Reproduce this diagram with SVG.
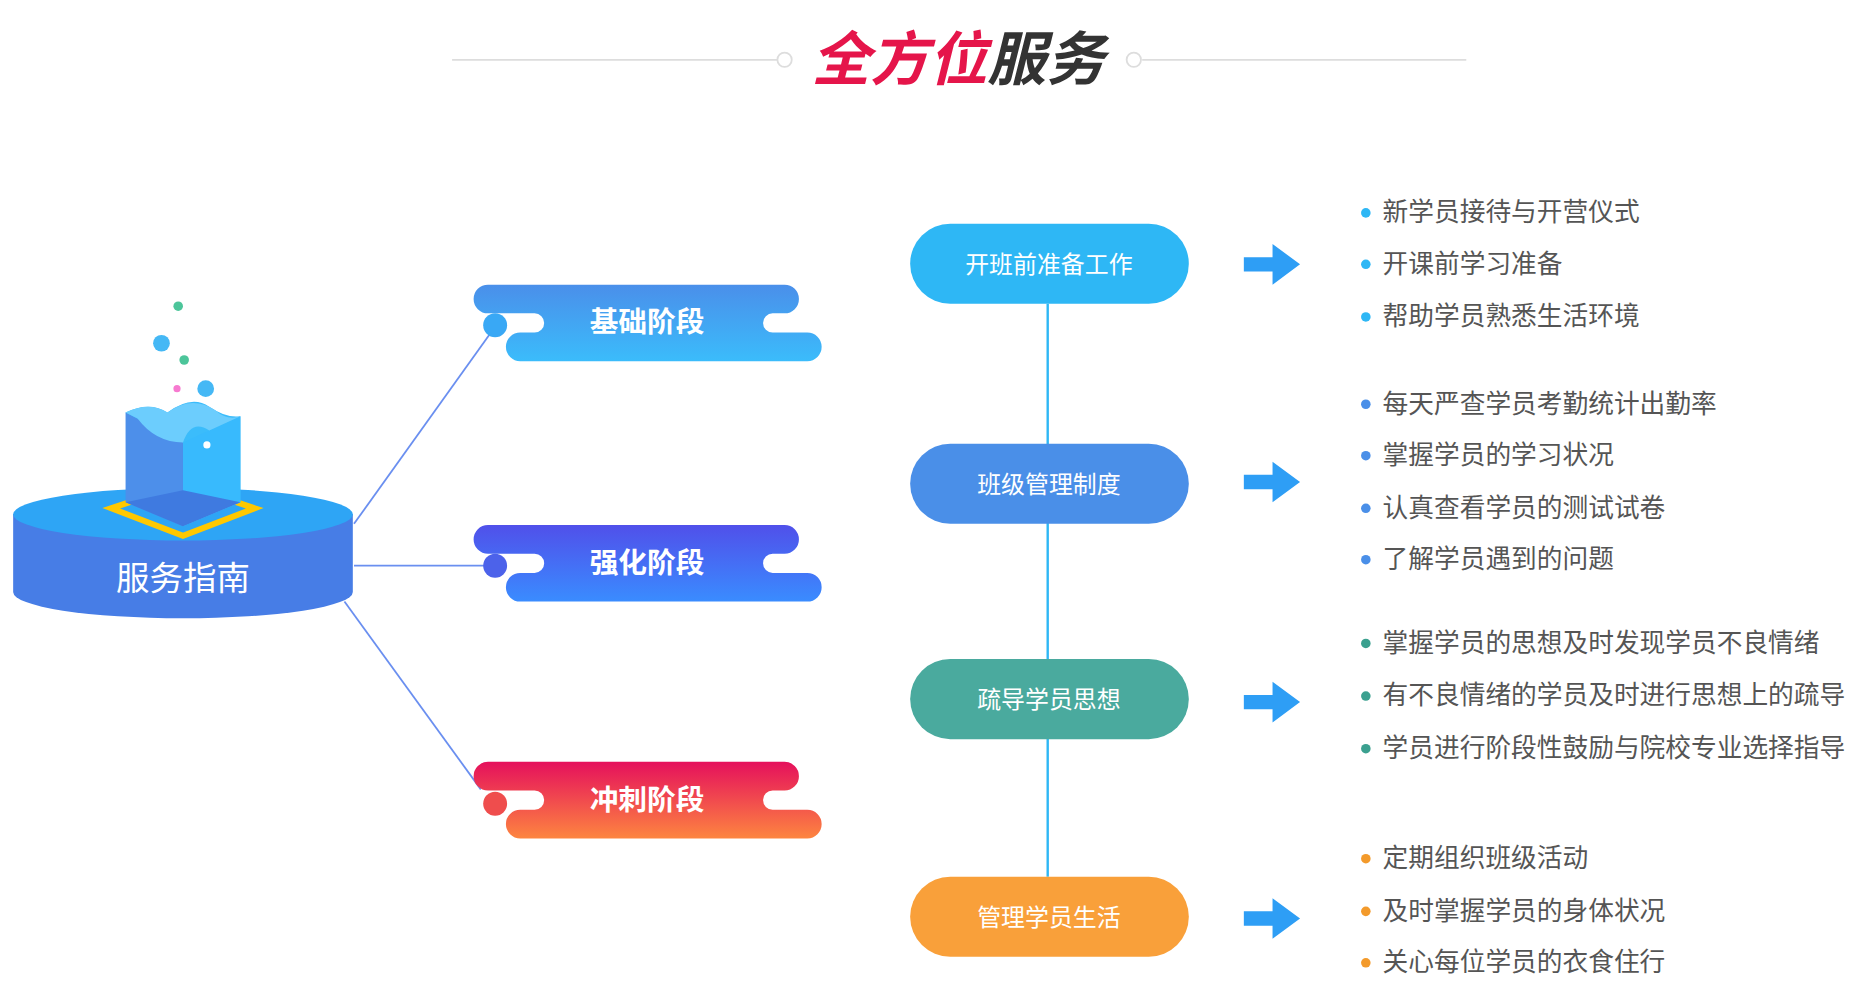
<svg xmlns="http://www.w3.org/2000/svg" width="1866" height="989" viewBox="0 0 1866 989">
<defs>
<style>
text{font-family:"Noto Sans CJK SC","Noto Sans",sans-serif}
.bt{fill:#fff;font-size:24px;font-weight:bold;text-anchor:middle}
.pt{fill:#fff;font-size:20px;text-anchor:middle}
.li{fill:#555;font-size:21.5px}
.conn{stroke:#6a8ff0;stroke-width:1.5;fill:none}
</style>
<linearGradient id="g1" x1="0" y1="0" x2="0" y2="1"><stop offset="0" stop-color="#4a8fea"/><stop offset="1" stop-color="#3bbcfb"/></linearGradient>
<linearGradient id="g2" x1="0" y1="0" x2="0" y2="1"><stop offset="0" stop-color="#5050ea"/><stop offset="1" stop-color="#3a8cff"/></linearGradient>
<linearGradient id="g3" x1="0" y1="0" x2="0" y2="1"><stop offset="0" stop-color="#e5105c"/><stop offset="1" stop-color="#fd8540"/></linearGradient>
<path id="badge" d="M12,0 H260 A12,12 0 0 1 260,24 H250 A8,8 0 0 0 250,40 H279 A12,12 0 0 1 279,64 H39 A12,12 0 0 1 39,40 H51 A8,8 0 0 0 51,24 H12 A12,12 0 0 1 12,0 Z"/>
<path id="arrow" d="M0,-6 H24 V-17 L47,0 L24,17 V6 H0 Z" fill="#2e9ef5"/>
</defs>
<rect width="1866" height="989" fill="#fff"/>
<g transform="scale(1.196)">
<g id="title">
<line x1="378" y1="50" x2="650" y2="50" stroke="#ddd" stroke-width="1.5"/>
<circle cx="656" cy="50" r="6" fill="#fff" stroke="#ddd" stroke-width="1.5"/>
<line x1="955" y1="50" x2="1226" y2="50" stroke="#ddd" stroke-width="1.5"/>
<circle cx="948" cy="50" r="6" fill="#fff" stroke="#ddd" stroke-width="1.5"/>
<text x="801" y="67" font-size="49" font-weight="bold" font-style="italic" text-anchor="middle"><tspan fill="#e5154a">全方位</tspan><tspan fill="#333">服务</tspan></text>
</g>
<g id="hub">
<path d="M11,430 V495 A142,22 0 0 0 295,495 V430 Z" fill="#477de6"/>
<ellipse cx="153" cy="430" rx="142" ry="22" fill="#2ea5f5"/>
<path d="M153,405 L213,425 L153,448 L93,425 Z" fill="none" stroke="#ffc800" stroke-width="5"/>
<path d="M105,345 Q125,335 140,345 Q160,330 175,340 Q190,350 201,348 V420 L153,440 Z" fill="#3bbcfb"/>
<path d="M105,345 L153,370 L153,440 L105,420 Z" fill="#4d8fea"/>
<path d="M153,370 L201,348 V420 L153,440 Z" fill="#38bafd"/>
<path d="M153,410 L201,420 L153,440 L105,420 Z" fill="#3f7ae0"/>
<path d="M105,345 Q125,335 140,345 Q160,330 180,343 Q190,352 201,348 L175,360 Q160,350 153,370 Q130,370 115,350 Z" fill="#6ccdfd"/>
<circle cx="173" cy="372" r="3" fill="#fff"/>
<circle cx="149" cy="256" r="4" fill="#4cc59a"/>
<circle cx="135" cy="287" r="7" fill="#45b8f5"/>
<circle cx="154" cy="301" r="4" fill="#4cc59a"/>
<circle cx="148" cy="325" r="3" fill="#f77ad0"/>
<circle cx="172" cy="325" r="7" fill="#45b8f5"/>
<text x="153" y="493" fill="#fff" font-size="28" text-anchor="middle">服务指南</text>
</g>
<g id="connectors">
<line class="conn" x1="296" y1="438" x2="412" y2="276"/>
<line class="conn" x1="296" y1="473" x2="410" y2="473"/>
<line class="conn" x1="288" y1="503" x2="402" y2="660"/>
<line x1="876" y1="254" x2="876" y2="733" stroke="#2eb7f5" stroke-width="2"/>
</g>
<g id="b1"><use href="#badge" x="396" y="238" fill="url(#g1)"/><circle cx="414" cy="272" r="10" fill="#39a8f5"/><text class="bt" x="541" y="278">基础阶段</text></g>
<g id="b2"><use href="#badge" x="396" y="439" fill="url(#g2)"/><circle cx="414" cy="473" r="10" fill="#4c62ea"/><text class="bt" x="541" y="479">强化阶段</text></g>
<g id="b3"><use href="#badge" x="396" y="637" fill="url(#g3)"/><circle cx="414" cy="672" r="10" fill="#ef4d4d"/><text class="bt" x="541" y="677">冲刺阶段</text></g>
<g id="p1"><rect x="761" y="187" width="233" height="67" rx="33.5" fill="#2eb7f5"/><text class="pt" x="877" y="228">开班前准备工作</text></g>
<g id="p2"><rect x="761" y="371" width="233" height="67" rx="33.5" fill="#4a8fe8"/><text class="pt" x="877" y="412">班级管理制度</text></g>
<g id="p3"><rect x="761" y="551" width="233" height="67" rx="33.5" fill="#4aaa9e"/><text class="pt" x="877" y="592">疏导学员思想</text></g>
<g id="p4"><rect x="761" y="733" width="233" height="67" rx="33.5" fill="#f9a03a"/><text class="pt" x="877" y="774">管理学员生活</text></g>
<g id="arrows">
<use href="#arrow" x="1040" y="221"/><use href="#arrow" x="1040" y="403"/><use href="#arrow" x="1040" y="587"/><use href="#arrow" x="1040" y="768"/>
</g>
<g id="l1" fill="#2eb7f5">
<circle cx="1142" cy="178" r="4"/><text class="li" x="1156" y="185">新学员接待与开营仪式</text>
<circle cx="1142" cy="221" r="4"/><text class="li" x="1156" y="228">开课前学习准备</text>
<circle cx="1142" cy="265" r="4"/><text class="li" x="1156" y="272">帮助学员熟悉生活环境</text>
</g>
<g id="l2" fill="#4a8fe8">
<circle cx="1142" cy="338" r="4"/><text class="li" x="1156" y="345">每天严查学员考勤统计出勤率</text>
<circle cx="1142" cy="381" r="4"/><text class="li" x="1156" y="388">掌握学员的学习状况</text>
<circle cx="1142" cy="425" r="4"/><text class="li" x="1156" y="432">认真查看学员的测试试卷</text>
<circle cx="1142" cy="468" r="4"/><text class="li" x="1156" y="475">了解学员遇到的问题</text>
</g>
<g id="l3" fill="#3ba08f">
<circle cx="1142" cy="538" r="4"/><text class="li" x="1156" y="545">掌握学员的思想及时发现学员不良情绪</text>
<circle cx="1142" cy="582" r="4"/><text class="li" x="1156" y="589">有不良情绪的学员及时进行思想上的疏导</text>
<circle cx="1142" cy="626" r="4"/><text class="li" x="1156" y="633">学员进行阶段性鼓励与院校专业选择指导</text>
</g>
<g id="l4" fill="#f39a2b">
<circle cx="1142" cy="718" r="4"/><text class="li" x="1156" y="725">定期组织班级活动</text>
<circle cx="1142" cy="762" r="4"/><text class="li" x="1156" y="769">及时掌握学员的身体状况</text>
<circle cx="1142" cy="805" r="4"/><text class="li" x="1156" y="812">关心每位学员的衣食住行</text>
</g>
</g>
</svg>
